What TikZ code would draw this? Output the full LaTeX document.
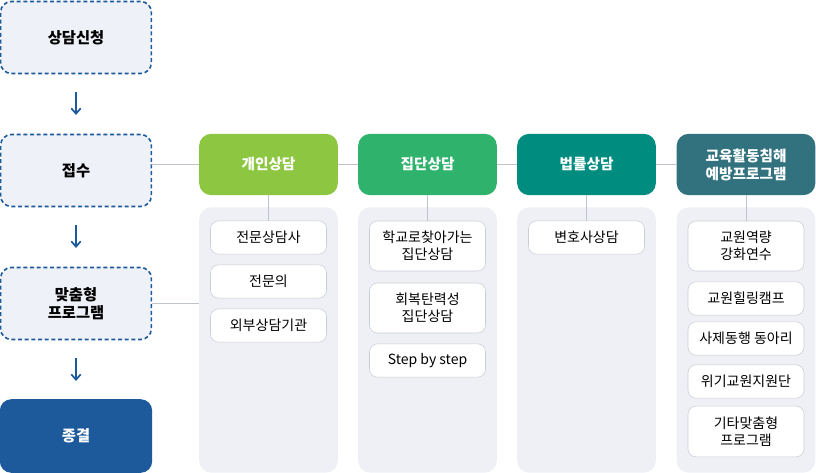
\documentclass[tikz,border=0pt]{standalone}
\usepackage{fontspec}
\usetikzlibrary{arrows.meta}
\setmainfont{Noto Sans CJK KR}
\definecolor{stepfill}{HTML}{EEF1F7}
\definecolor{stepline}{HTML}{1D5A9C}
\definecolor{panelfill}{HTML}{EEF0F5}
\definecolor{cGreen}{HTML}{8DC641}
\definecolor{cMid}{HTML}{2FB26C}
\definecolor{cTeal}{HTML}{008C7E}
\definecolor{cBlue}{HTML}{32727F}
\definecolor{itemline}{HTML}{C9CDD4}
\definecolor{linkline}{HTML}{BFC3CA}
\tikzset{
  stepbox/.style={draw=stepline, densely dashed, line width=1.2pt, fill=stepfill, rounded corners=8pt,
    minimum width=113pt, minimum height=54pt, font=\fontsize{11.5}{14}\selectfont\bfseries, align=center},
  headbox/.style={rounded corners=9pt, minimum width=104pt, minimum height=46pt, text=white,
    font=\fontsize{11}{13.5}\selectfont\bfseries, align=center},
  panel/.style={fill=panelfill, rounded corners=9pt, minimum width=104pt, minimum height=199pt},
  itembox/.style={draw=itemline, fill=white, rounded corners=6pt, minimum width=87pt,
    font=\fontsize{10.5}{12.5}\selectfont, align=center},
  link/.style={draw=linkline, line width=0.6pt},
  flow/.style={-{Straight Barb[length=4pt,width=7pt]}, draw=stepline, line width=1.3pt}
}
\begin{document}
\begin{tikzpicture}[x=0.75pt,y=-0.75pt]
  \useasboundingbox (0,0) rectangle (816,473);

  % 좌측 단계
  \node[stepbox] (s1) at (76,37.5) {상담신청};
  \node[stepbox] (s2) at (76,170.5) {접수};
  \node[stepbox] (s3) at (76,303.5) {맞춤형\\프로그램};
  \node[stepbox, draw=stepline, solid, fill=stepline, text=white] (s4) at (76,436) {종결};
  \coordinate (a1) at (76,92);  \coordinate (b1) at (76,115);
  \coordinate (a2) at (76,225); \coordinate (b2) at (76,248);
  \coordinate (a3) at (76,358); \coordinate (b3) at (76,381);
  \draw[flow] (a1) -- (b1);
  \draw[flow] (a2) -- (b2);
  \draw[flow] (a3) -- (b3);

  % 패널
  \node[panel] (p1) at (268.5,340) {};
  \node[panel] (p2) at (427.5,340) {};
  \node[panel] (p3) at (586.5,340) {};
  \node[panel] (p4) at (746,340) {};

  % 제목
  \node[headbox, fill=cGreen] (h1) at (268.5,164.5) {개인상담};
  \node[headbox, fill=cMid] (h2) at (427.5,164.5) {집단상담};
  \node[headbox, fill=cTeal] (h3) at (586.5,164.5) {법률상담};
  \node[headbox, fill=cBlue] (h4) at (746,164.5) {교육활동침해\\예방프로그램};

  \draw[link] (s2.east |- h1.west) -- (h1.west);
  \draw[link] (h1.east) -- (h2.west);
  \draw[link] (h2.east) -- (h3.west);
  \draw[link] (h3.east) -- (h4.west);
  \draw[link] (s3.east) -- (p1.west |- s3.east);

  % 항목
  \node[itembox, minimum height=25pt] (i11) at (268.5,237.5) {전문상담사};
  \node[itembox, minimum height=25pt] (i12) at (268.5,281.5) {전문의};
  \node[itembox, minimum height=25pt] (i13) at (268.5,325.5) {외부상담기관};

  \node[itembox, minimum height=37.5pt] (i21) at (427.5,246) {학교로찾아가는\\집단상담};
  \node[itembox, minimum height=37.5pt] (i22) at (427.5,308) {회복탄력성\\집단상담};
  \node[itembox, minimum height=25pt] (i23) at (427.5,360.5) {Step by step};

  \node[itembox, minimum height=25pt] (i31) at (586.5,237.5) {변호사상담};

  \node[itembox, minimum height=37.5pt] (i41) at (746,246) {교원역량\\강화연수};
  \node[itembox, minimum height=25pt] (i42) at (746,298.5) {교원힐링캠프};
  \node[itembox, minimum height=25pt] (i43) at (746,338.5) {사제동행 동아리};
  \node[itembox, minimum height=25pt] (i44) at (746,381.5) {위기교원지원단};
  \node[itembox, minimum height=38pt] (i45) at (746,431.5) {기타맞춤형\\프로그램};

  \draw[link] (h1.south) -- (i11.north);
  \draw[link] (h2.south) -- (i21.north);
  \draw[link] (h3.south) -- (i31.north);
  \draw[link] (h4.south) -- (i41.north);
\end{tikzpicture}
\end{document}
